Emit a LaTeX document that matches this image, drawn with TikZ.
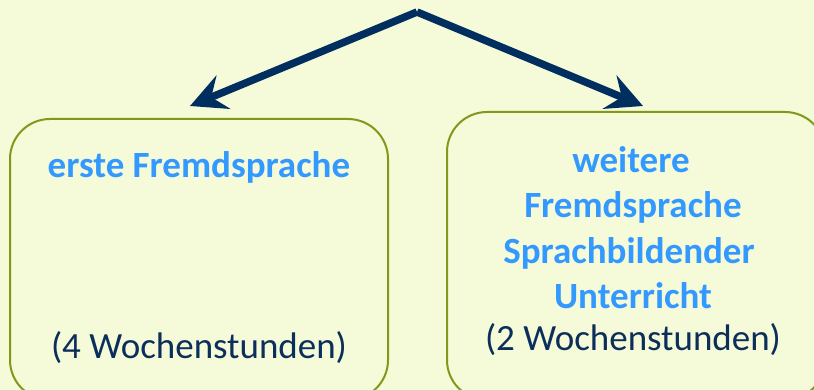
\documentclass[tikz,border=0pt]{standalone}
\usepackage{fontspec}
\setmainfont{Carlito}
\usetikzlibrary{arrows.meta}
\definecolor{bg}{HTML}{F5FAD8}
\definecolor{olive}{HTML}{7F9A1A}
\definecolor{navy}{HTML}{002E5E}
\definecolor{txtblue}{HTML}{3399FF}
\definecolor{txtdark}{HTML}{0B2F5A}
\tikzset{
  box/.style={draw=olive, line width=2pt, rounded corners=40pt, fill=bg},
  headtxt/.style={font=\fontsize{37}{45}\selectfont\bfseries, text=txtblue, align=center, anchor=base},
  hourtxt/.style={font=\fontsize{37}{45}\selectfont, text=txtdark, anchor=base},
  link/.style={draw=navy, line width=7.5pt, line join=miter, -{Stealth[length=36pt, width=36pt, inset=13pt]}}
}
\begin{document}
\begin{tikzpicture}[x=1pt,y=-1pt]
\fill[bg] (0,0) rectangle (814,390);
\useasboundingbox (0,0) rectangle (814,390);
\draw[box] (10,119) rectangle (388,400);
\draw[box] (447,112) rectangle (825,400);
\node[headtxt] (l1) at (199,178) {erste Fremdsprache};
\node[hourtxt] (l2) at (199,358) {(4 Wochenstunden)};
\node[headtxt] (r1) at (631,173) {weitere};
\node[headtxt] (r2) at (633,218) {Fremdsprache};
\node[headtxt] (r3) at (629,263) {Sprachbildender};
\node[headtxt] (r4) at (633,308) {Unterricht};
\node[hourtxt] (r5) at (633,350) {(2 Wochenstunden)};
\coordinate (apex) at (417,12);
\coordinate (tipL) at (190,106);
\coordinate (tipR) at (643,106);
\draw[link] (apex) -- (tipL);
\draw[link] (apex) -- (tipR);
\end{tikzpicture}
\end{document}
